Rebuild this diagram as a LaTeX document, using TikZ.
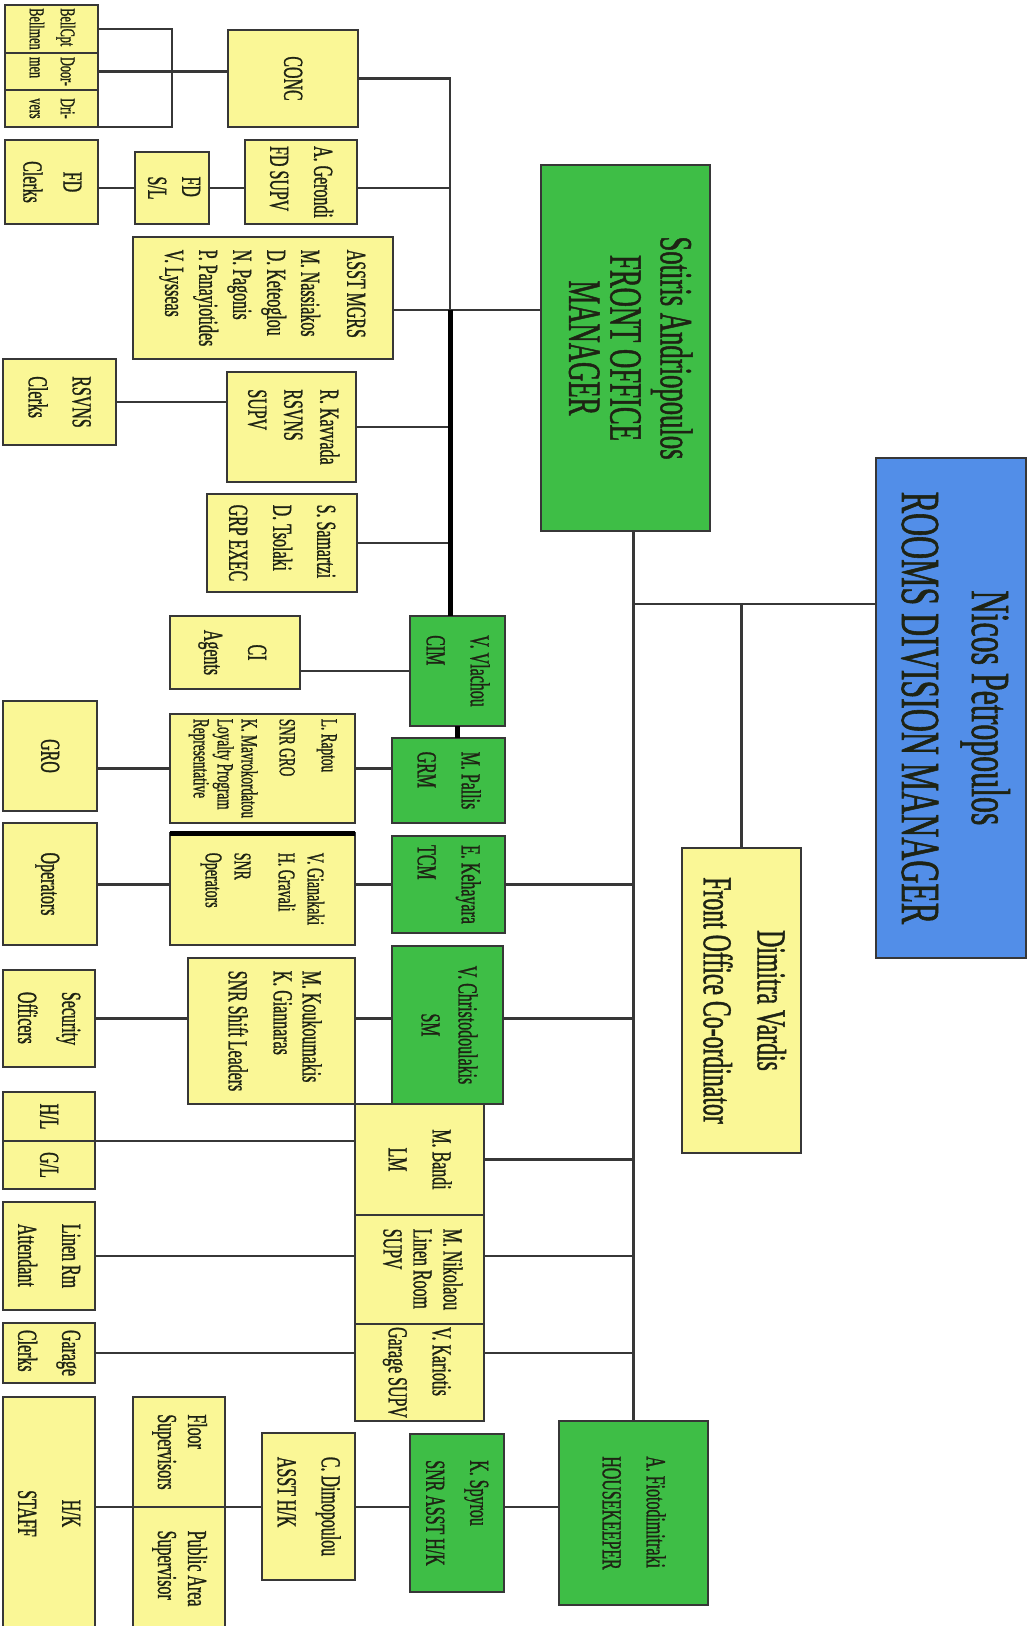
\documentclass[tikz,border=0pt]{standalone}
\usepackage{fontspec}
\setmainfont[FakeStretch=0.58,FakeBold=1]{Liberation Serif}
\usepackage{graphicx}

\definecolor{boxyellow}{RGB}{250,247,150}
\definecolor{boxgreen}{RGB}{62,190,70}
\definecolor{boxblue}{RGB}{82,142,232}
\definecolor{linegray}{RGB}{55,55,55}
\definecolor{inkdark}{RGB}{30,35,20}

\newcommand{\vlab}[2][l]{\rotatebox{-90}{\begin{tabular}{@{}#1@{}}#2\end{tabular}}}

\tikzset{
  yellowbox/.style={draw=linegray, line width=2.5pt, fill=boxyellow, text=inkdark, anchor=north west,
    inner sep=0pt, outer sep=0pt, font=\fontsize{27.5}{44}\selectfont},
  greenbox/.style={yellowbox, fill=boxgreen},
  bluebox/.style={yellowbox, fill=boxblue},
  link/.style={draw=linegray, line width=2.5pt},
  heavy/.style={draw=black, line width=5pt},
}

\begin{document}
\begin{tikzpicture}[x=1pt,y=-1pt]
    \useasboundingbox (0,0) rectangle (1032,1626);
    \clip (0,0) rectangle (1032,1626);

    % draw front office boxes
    \node[yellowbox, minimum width=93, minimum height=48, font=\fontsize{21}{31}\selectfont] (bell) at (5,5) {\vlab{BellCpt\\Bellmen}};
    \node[yellowbox, minimum width=93, minimum height=37, font=\fontsize{21}{31}\selectfont] (door) at (5,53) {\vlab{Door-\\men}};
    \node[yellowbox, minimum width=93, minimum height=37, font=\fontsize{21}{31}\selectfont] (dri) at (5,90) {\vlab{Dri-\\vers}};
    \node[yellowbox, minimum width=130, minimum height=97] (conc) at (228,30) {\vlab{CONC}};
    \node[yellowbox, minimum width=93, minimum height=84, font=\fontsize{27.5}{40}\selectfont] (fdclerks) at (5,140) {\vlab[c]{FD\\Clerks}};
    \node[yellowbox, minimum width=74, minimum height=72, font=\fontsize{27.5}{34}\selectfont] (fdsl) at (135,152) {\vlab{FD\\S/L}};
    \node[yellowbox, minimum width=112, minimum height=84] (gerondi) at (245,140) {\vlab{A. Gerondi\\FD SUPV}};
    \node[yellowbox, minimum width=260, minimum height=122, font=\fontsize{27.5}{34}\selectfont] (asst) at (133,237)
        {\vlab{ASST MGRS\\[12pt] M. Nassiakos\\ D. Keteoglou\\ N. Pagonis\\ P. Panayiotides\\ V. Lysseas}};
    \node[yellowbox, minimum width=113, minimum height=86] (rclerks) at (3,359) {\vlab{RSVNS\\Clerks}};
    \node[yellowbox, minimum width=129, minimum height=110, font=\fontsize{27.5}{36}\selectfont] (kavvada) at (227,372) {\vlab{R. Kavvada\\RSVNS\\SUPV}};
    \node[yellowbox, minimum width=150, minimum height=98] (samartzi) at (207,494) {\vlab{S. Samartzi\\D. Tsolaki\\GRP EXEC}};

    % draw managers
    \node[greenbox, minimum width=169, minimum height=366, font=\fontsize{46}{36}\selectfont] (fom) at (541,165)
        {\vlab[c]{Sotiris Andriopoulos\\[9pt] FRONT OFFICE\\ MANAGER}};
    \node[bluebox, minimum width=150, minimum height=500, font=\fontsize{55}{70}\selectfont] (nicos) at (876,458)
        {\vlab[c]{Nicos Petropoulos\\ROOMS DIVISION MANAGER}};
    \node[yellowbox, minimum width=119, minimum height=305, font=\fontsize{41}{54}\selectfont] (dimitra) at (682,848)
        {\vlab[c]{Dimitra Vardis\\Front Office Co-ordinator}};

    % draw guest service boxes
    \node[yellowbox, minimum width=130, minimum height=73] (ci) at (170,616) {\vlab[c]{CI\\Agents}};
    \node[greenbox, minimum width=95, minimum height=110] (cim) at (410,616) {\vlab{V. Vlachou\\CIM}};
    \node[yellowbox, minimum width=94, minimum height=110] (gro) at (3,701) {\vlab{GRO}};
    \node[yellowbox, minimum width=185, minimum height=109, font=\fontsize{23}{24}\selectfont] (raptou) at (170,714)
        {\vlab{L. Raptou\\[18pt] SNR GRO\\[14pt] K. Mavrokordatou\\ Loyalty Program\\ Representative}};
    \node[greenbox, minimum width=113, minimum height=85] (grm) at (392,738) {\vlab{M. Pallis\\GRM}};
    \node[yellowbox, minimum width=94, minimum height=122] (opers) at (3,823) {\vlab{Operators}};
    \node[yellowbox, minimum width=185, minimum height=112, font=\fontsize{24}{29}\selectfont] (gian) at (170,833)
        {\vlab{V. Gianakaki\\ H. Gravali\\[15pt] SNR\\ Operators}};
    \node[greenbox, minimum width=113, minimum height=97] (tcm) at (392,836) {\vlab{E. Kehayara\\TCM}};
    \node[yellowbox, minimum width=92, minimum height=97] (security) at (3,970) {\vlab{Security\\Officers}};
    \node[yellowbox, minimum width=167, minimum height=146, font=\fontsize{27.5}{29}\selectfont] (kouk) at (188,958)
        {\vlab{M. Koukoumakis\\ K. Giannaras\\[16pt] SNR Shift Leaders}};
    \node[greenbox, minimum width=111, minimum height=158, font=\fontsize{27.5}{37}\selectfont] (sm) at (392,946) {\vlab[c]{V. Christodoulakis\\SM}};

    % draw linen and garage boxes
    \node[yellowbox, minimum width=92, minimum height=49] (hl) at (3,1092) {\vlab{H/L}};
    \node[yellowbox, minimum width=92, minimum height=48] (gl) at (3,1141) {\vlab{G/L}};
    \node[yellowbox, minimum width=129, minimum height=111] (bandi) at (355,1104) {\vlab[c]{M. Bandi\\LM}};
    \node[yellowbox, minimum width=129, minimum height=109, font=\fontsize{27.5}{30}\selectfont] (nikolaou) at (355,1215) {\vlab{M. Nikolaou\\Linen Room\\SUPV}};
    \node[yellowbox, minimum width=129, minimum height=97] (kariotis) at (355,1324) {\vlab{V. Kariotis\\Garage SUPV}};
    \node[yellowbox, minimum width=92, minimum height=108] (linen) at (3,1202) {\vlab{Linen Rm\\Attendant}};
    \node[yellowbox, minimum width=92, minimum height=60] (garage) at (3,1323) {\vlab{Garage\\Clerks}};

    % draw housekeeping boxes
    \node[yellowbox, minimum width=92, minimum height=233] (hkstaff) at (3,1397) {\vlab[c]{H/K\\STAFF}};
    \node[yellowbox, minimum width=92, minimum height=110, font=\fontsize{27.5}{30}\selectfont] (floor) at (133,1397) {\vlab{Floor\\Supervisors}};
    \node[yellowbox, minimum width=92, minimum height=123, font=\fontsize{27.5}{30}\selectfont] (public) at (133,1507) {\vlab{Public Area\\Supervisor}};
    \node[yellowbox, minimum width=93, minimum height=147] (dimop) at (262,1433) {\vlab{C. Dimopoulou\\ASST H/K}};
    \node[greenbox, minimum width=94, minimum height=158] (spyrou) at (410,1434) {\vlab{K. Spyrou\\SNR ASST H/K}};
    \node[greenbox, minimum width=149, minimum height=184] (hk) at (559,1421) {\vlab{A. Fiotodimitraki\\HOUSEKEEPER}};

    % junction points
    \coordinate (brk) at (172,0);
    \coordinate (busL) at (450,0);
    \coordinate (jn) at (633,604);
    \coordinate (asstout) at ([yshift=-12pt]asst.east);

    % draw front office lines
    \draw[link] (bell.east) -- (bell.east -| brk) -- (dri.south -| brk) -- (dri.south east);
    \draw[link] (door.east) -- (door.east -| conc.west);
    \draw[link] (conc.east) -- (conc.east -| busL) -- (asstout -| busL);
    \draw[link] (fdsl.west -| fdclerks.east) -- (fdsl.west);
    \draw[link] (fdsl.east) -- (fdsl.east -| gerondi.west);
    \draw[link] (fdsl.east -| gerondi.east) -- (fdsl.east -| busL);
    \draw[link] (asstout) -- (asstout -| fom.west);
    \draw[link] (rclerks.east) -- (rclerks.east -| kavvada.west);
    \draw[link] (kavvada.east) -- (kavvada.east -| busL);
    \draw[link] (samartzi.east) -- (samartzi.east -| busL);
    \draw[heavy] (asstout -| busL) -- (busL |- cim.north);
    \draw[link] (cim.west -| ci.east) -- (cim.west);
    \draw[heavy] (cim.south) -- (cim.south |- grm.north);
    \draw[link] (raptou.west -| gro.east) -- (raptou.west);
    \draw[link] (raptou.east) -- (raptou.east -| grm.west);
    \draw[heavy] (gian.north west) -- (gian.north east);
    \draw[link] (tcm.west -| opers.east) -- (tcm.west -| gian.west);
    \draw[link] (tcm.west -| gian.east) -- (tcm.west);
    \draw[link] (security.east) -- (security.east -| kouk.west);
    \draw[link] (security.east -| kouk.east) -- (security.east -| sm.west);

    % draw main spine
    \draw[link] (hk.north |- fom.south) -- (hk.north);
    \draw[link] (jn) -- (jn -| nicos.west);
    \draw[link] (jn -| dimitra.north) -- (dimitra.north);
    \draw[link] (tcm.east) -- (tcm.east -| hk.north);
    \draw[link] (security.east -| sm.east) -- (security.east -| hk.north);
    \draw[link] (bandi.east) -- (bandi.east -| hk.north);
    \draw[link] (linen.east -| nikolaou.east) -- (linen.east -| hk.north);
    \draw[link] (garage.east -| kariotis.east) -- (garage.east -| hk.north);

    % draw linen, garage and housekeeping lines
    \draw[link] (hl.south east) -- (hl.south east -| bandi.west);
    \draw[link] (linen.east) -- (linen.east -| nikolaou.west);
    \draw[link] (garage.east) -- (garage.east -| kariotis.west);
    \draw[link] (floor.south -| hkstaff.east) -- (floor.south -| dimop.west);
    \draw[link] (dimop.east |- floor.south) -- (spyrou.west |- floor.south);
    \draw[link] (spyrou.east |- floor.south) -- (hk.west |- floor.south);
\end{tikzpicture}
\end{document}
